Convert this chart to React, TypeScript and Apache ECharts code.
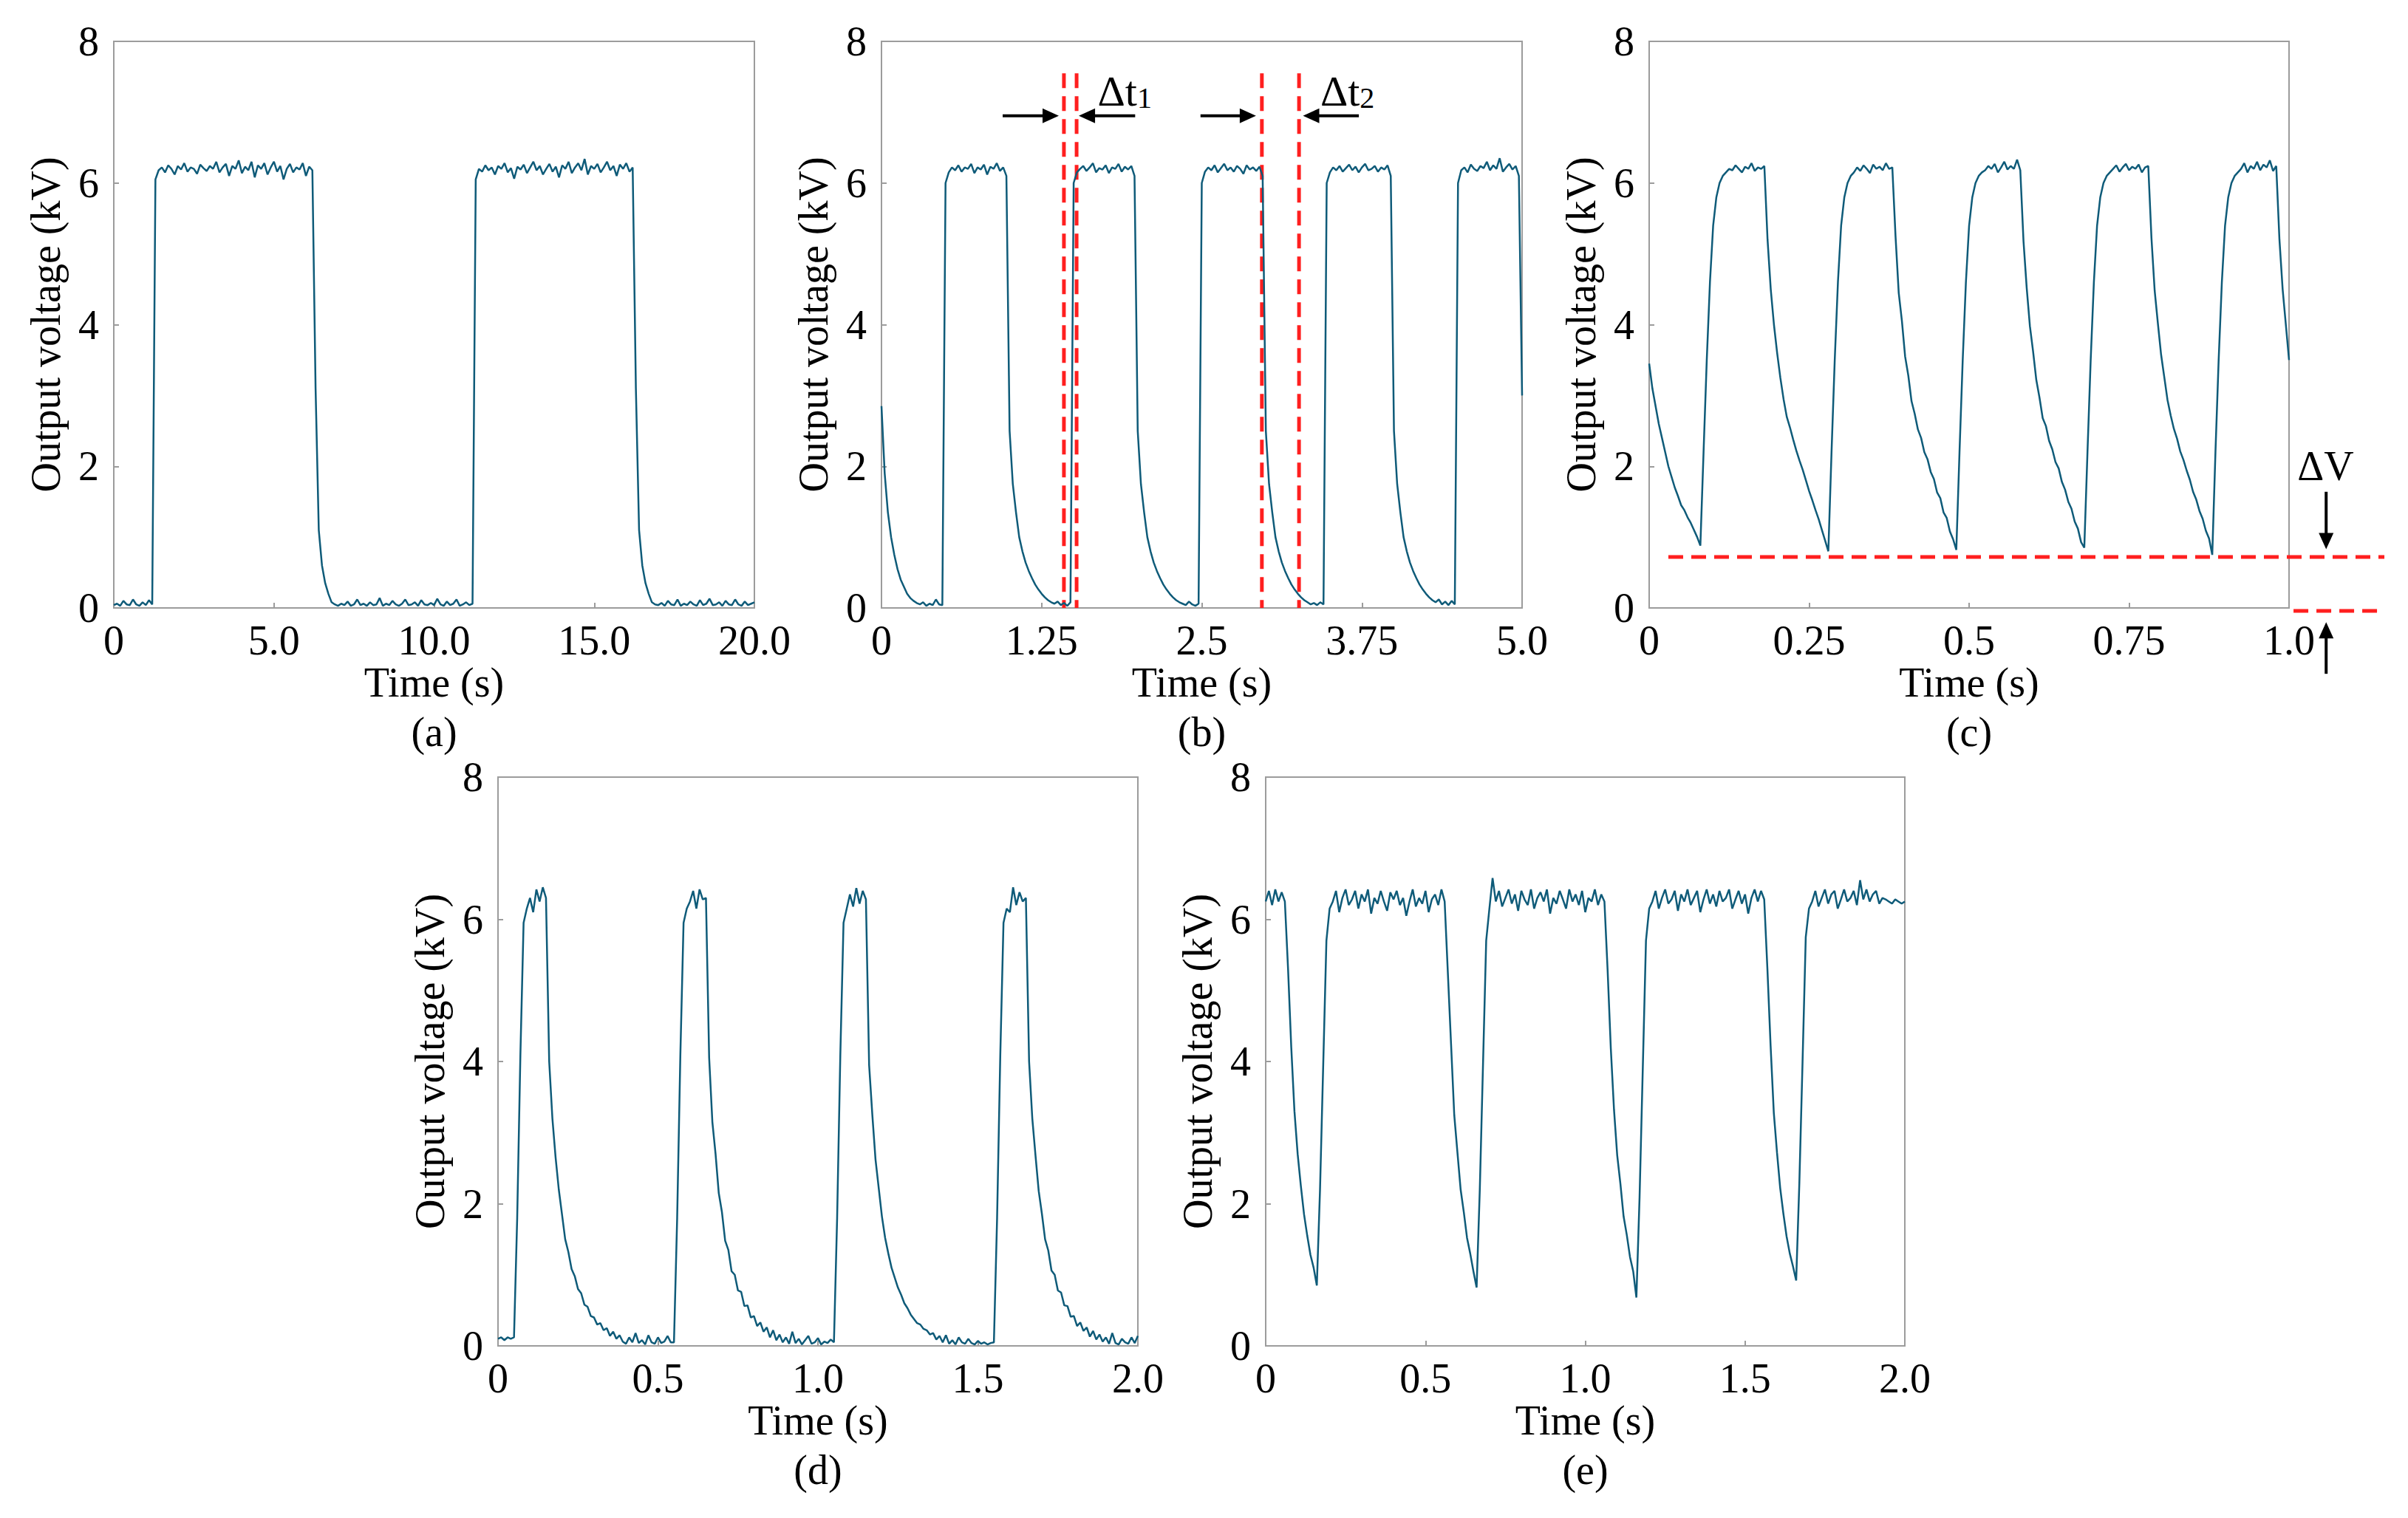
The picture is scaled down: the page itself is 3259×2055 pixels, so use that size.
import { useEffect, useRef } from 'react';
import * as echarts from 'echarts';

const W = 3259;
const H = 2055;
const FONT = '"Liberation Serif", "Times New Roman", serif';
const TRACE = '#0f5b79';
const RED = '#ff1f1f';
const FRAME = '#9c9c9c';

// tick labels
const Y_TICKS = ['0', '2', '4', '6', '8'];
const X_TICKS_A = ['0', '5.0', '10.0', '15.0', '20.0'];
const X_TICKS_B = ['0', '1.25', '2.5', '3.75', '5.0'];
const X_TICKS_C = ['0', '0.25', '0.5', '0.75', '1.0'];
const X_TICKS_DE = ['0', '0.5', '1.0', '1.5', '2.0'];

// (a) output voltage (kV), sampled every 0.1 s, t = 0 .. 20 s
const STEP_A = 0.1;
const VOLT_A = [
  0.04, 0.06, 0.03, 0.10, 0.05, 0.04, 0.12, 0.05, 0.03, 0.08, // 0.0
  0.04, 0.11, 0.05, 6.05, 6.18, 6.22, 6.15, 6.25, 6.20, 6.12, // 1.0
  6.24, 6.19, 6.28, 6.16, 6.22, 6.20, 6.13, 6.26, 6.21, 6.17, // 2.0
  6.24, 6.20, 6.30, 6.15, 6.22, 6.27, 6.10, 6.24, 6.20, 6.32, // 3.0
  6.14, 6.23, 6.18, 6.30, 6.08, 6.25, 6.20, 6.28, 6.12, 6.22, // 4.0
  6.30, 6.16, 6.24, 6.05, 6.20, 6.27, 6.15, 6.22, 6.19, 6.28, // 5.0
  6.10, 6.23, 6.18, 3.10, 1.10, 0.60, 0.35, 0.20, 0.08, 0.05, // 6.0
  0.03, 0.06, 0.04, 0.09, 0.03, 0.05, 0.12, 0.04, 0.06, 0.03, // 7.0
  0.08, 0.04, 0.05, 0.14, 0.03, 0.06, 0.04, 0.10, 0.05, 0.03, // 8.0
  0.06, 0.12, 0.04, 0.05, 0.08, 0.03, 0.11, 0.05, 0.04, 0.07, // 9.0
  0.04, 0.13, 0.05, 0.03, 0.09, 0.04, 0.06, 0.12, 0.03, 0.05, // 10.0
  0.08, 0.04, 0.06, 6.05, 6.20, 6.16, 6.25, 6.18, 6.22, 6.12, // 11.0
  6.24, 6.20, 6.28, 6.15, 6.21, 6.06, 6.23, 6.19, 6.26, 6.14, // 12.0
  6.22, 6.30, 6.18, 6.24, 6.12, 6.20, 6.27, 6.16, 6.23, 6.08, // 13.0
  6.25, 6.20, 6.30, 6.14, 6.22, 6.28, 6.18, 6.34, 6.12, 6.24, // 14.0
  6.20, 6.27, 6.15, 6.22, 6.30, 6.18, 6.24, 6.10, 6.26, 6.20, // 15.0
  6.28, 6.16, 6.22, 3.10, 1.10, 0.60, 0.35, 0.20, 0.08, 0.05, // 16.0
  0.04, 0.07, 0.03, 0.10, 0.05, 0.04, 0.12, 0.03, 0.06, 0.04, // 17.0
  0.09, 0.05, 0.03, 0.11, 0.04, 0.06, 0.13, 0.04, 0.05, 0.08, // 18.0
  0.03, 0.10, 0.05, 0.04, 0.12, 0.05, 0.03, 0.09, 0.04, 0.06, // 19.0
  0.08, // 20.0
];

// (b) sampled every 0.025 s, t = 0 .. 5 s
const STEP_B = 0.025;
const VOLT_B = [
  2.85, 1.90, 1.35, 1.00, 0.75, 0.55, 0.40, 0.30, 0.20, 0.14, // 0.0
  0.10, 0.07, 0.05, 0.08, 0.03, 0.06, 0.04, 0.12, 0.05, 0.04, // 0.25
  6.00, 6.15, 6.22, 6.18, 6.25, 6.16, 6.22, 6.20, 6.27, 6.14, // 0.5
  6.22, 6.19, 6.26, 6.12, 6.23, 6.20, 6.28, 6.17, 6.22, 6.10, // 0.75
  2.50, 1.75, 1.35, 1.00, 0.80, 0.64, 0.52, 0.42, 0.33, 0.26, // 1.0
  0.20, 0.15, 0.11, 0.08, 0.06, 0.09, 0.04, 0.07, 0.03, 0.08, // 1.25
  6.00, 6.15, 6.20, 6.24, 6.17, 6.22, 6.28, 6.15, 6.21, 6.19, // 1.5
  6.25, 6.14, 6.22, 6.20, 6.27, 6.16, 6.23, 6.19, 6.24, 6.10, // 1.75
  2.50, 1.75, 1.35, 1.00, 0.80, 0.64, 0.52, 0.42, 0.33, 0.26, // 2.0
  0.20, 0.15, 0.11, 0.08, 0.06, 0.04, 0.09, 0.05, 0.03, 0.06, // 2.25
  6.00, 6.16, 6.22, 6.18, 6.25, 6.15, 6.21, 6.27, 6.18, 6.22, // 2.5
  6.16, 6.24, 6.20, 6.13, 6.25, 6.19, 6.22, 6.17, 6.23, 6.10, // 2.75
  2.50, 1.75, 1.35, 1.00, 0.80, 0.64, 0.52, 0.42, 0.33, 0.26, // 3.0
  0.20, 0.15, 0.11, 0.08, 0.05, 0.07, 0.04, 0.08, 0.05, 6.00, // 3.25
  6.15, 6.22, 6.18, 6.24, 6.16, 6.21, 6.26, 6.18, 6.23, 6.15, // 3.5
  6.22, 6.27, 6.18, 6.20, 6.24, 6.16, 6.22, 6.19, 6.25, 6.10, // 3.75
  2.50, 1.75, 1.35, 1.00, 0.80, 0.64, 0.52, 0.42, 0.33, 0.26, // 4.0
  0.20, 0.15, 0.11, 0.08, 0.12, 0.05, 0.09, 0.04, 0.10, 0.05, // 4.25
  6.00, 6.18, 6.22, 6.15, 6.26, 6.20, 6.17, 6.24, 6.21, 6.30, // 4.5
  6.18, 6.25, 6.20, 6.35, 6.16, 6.22, 6.27, 6.19, 6.24, 6.10, // 4.75
  3.00, // 5.0
];

// (c) sampled every 0.005 s, t = 0 .. 1 s
const STEP_C = 0.005;
const VOLT_C = [
  3.45, 3.10, 2.85, 2.60, 2.40, 2.20, 2.00, 1.85, 1.70, 1.58, 1.45, 1.38, 1.28, 1.20, 1.10, 1.00, // 0 - 0.075
  0.88, 2.20, 3.50, 4.60, 5.40, 5.80, 6.00, 6.10, 6.15, // 0.08 rise
  6.20, 6.18, 6.25, 6.20, 6.15, 6.23, 6.20, 6.28, 6.17, 6.22, 6.20, 6.24,
  5.20, 4.50, 4.00, 3.60, 3.25, 2.95, 2.70, 2.55, 2.38, 2.22, 2.08, 1.95, 1.80, 1.65, 1.52, 1.38, 1.25, 1.10, 0.95,
  0.80, 2.20, 3.50, 4.60, 5.40, 5.80, 6.00, 6.10, 6.15, // 0.28 rise
  6.22, 6.17, 6.25, 6.20, 6.14, 6.26, 6.20, 6.23, 6.18, 6.28, 6.20, 6.22,
  5.25, 4.45, 4.05, 3.55, 3.28, 2.92, 2.74, 2.52, 2.40, 2.20, 2.10, 1.92, 1.82, 1.63, 1.55, 1.35, 1.27, 1.08, 0.97,
  0.82, 2.20, 3.50, 4.60, 5.40, 5.80, 6.00, 6.10, 6.15, // 0.48 rise
  6.18, 6.24, 6.20, 6.27, 6.15, 6.22, 6.30, 6.19, 6.24, 6.20, 6.33, 6.18,
  5.18, 4.52, 3.98, 3.62, 3.22, 2.97, 2.68, 2.57, 2.36, 2.24, 2.06, 1.97, 1.78, 1.67, 1.50, 1.40, 1.22, 1.12, 0.93,
  0.85, 2.20, 3.50, 4.60, 5.40, 5.80, 6.00, 6.10, 6.15, // 0.68 rise
  6.20, 6.25, 6.16, 6.22, 6.27, 6.18, 6.23, 6.20, 6.26, 6.15, 6.22, 6.24,
  5.22, 4.48, 4.02, 3.58, 3.26, 2.94, 2.72, 2.53, 2.39, 2.21, 2.09, 1.94, 1.81, 1.64, 1.53, 1.37, 1.26, 1.09, 0.98,
  0.75, 2.20, 3.50, 4.60, 5.40, 5.80, 6.00, 6.10, 6.15, // 0.88 rise
  6.20, 6.28, 6.15, 6.24, 6.20, 6.30, 6.18, 6.26, 6.22, 6.32, 6.17, 6.24,
  5.20, 4.50, 4.00, 3.50, // 0.985 - 1.0
];

// (d) sampled every 0.01 s, t = 0 .. 2 s
const STEP_D = 0.01;
const VOLT_D = [
  0.10, 0.12, 0.08, 0.12, 0.10,
  0.12, 1.80, 4.10, 5.95, 6.15, // 0.05 rise
  6.30, 6.10, 6.42, 6.25, 6.45, 6.30,
  4.00, 3.20, 2.65, 2.20, 1.85, 1.50, 1.32, 1.08, 0.98, 0.80, 0.74, 0.58, 0.55, 0.42, 0.40, 0.30, 0.32, 0.22, 0.25, 0.14, 0.20, 0.10, 0.15, 0.06,
  0.03, 0.12, 0.05, 0.18, 0.04, 0.08, 0.02, 0.15, 0.05, 0.03, 0.12, 0.04, 0.06, 0.14, 0.05,
  0.05, 1.80, 4.10, 5.95, 6.15, // 0.55 rise
  6.25, 6.40, 6.15, 6.42, 6.28, 6.30,
  4.05, 3.15, 2.70, 2.15, 1.88, 1.48, 1.35, 1.05, 1.00, 0.78, 0.76, 0.56, 0.57, 0.40, 0.42, 0.28, 0.33, 0.20, 0.26, 0.12, 0.22, 0.08, 0.16, 0.05,
  0.12, 0.03, 0.20, 0.04, 0.10, 0.02, 0.08, 0.14, 0.03, 0.05, 0.11, 0.02, 0.06, 0.04, 0.09,
  0.05, 1.80, 4.10, 5.95, 6.15, // 1.05 rise
  6.35, 6.18, 6.44, 6.22, 6.40, 6.28,
  3.95, 3.25, 2.62, 2.22, 1.82, 1.52, 1.30, 1.10, 0.96, 0.82, 0.72, 0.60, 0.53, 0.44, 0.38, 0.32, 0.30, 0.24, 0.22, 0.16, 0.18, 0.09, 0.14, 0.05,
  0.15, 0.03, 0.08, 0.02, 0.12, 0.05, 0.03, 0.10, 0.04, 0.02, 0.07, 0.03, 0.05, 0.02, 0.04,
  0.05, 1.80, 4.10, 5.95, 6.15, // 1.55 rise
  6.10, 6.45, 6.20, 6.38, 6.25, 6.30,
  4.00, 3.20, 2.68, 2.18, 1.86, 1.50, 1.34, 1.06, 1.00, 0.78, 0.75, 0.57, 0.56, 0.41, 0.42, 0.28, 0.33, 0.21, 0.26, 0.13, 0.21, 0.09, 0.16, 0.06,
  0.12, 0.03, 0.18, 0.04, 0.02, 0.10, 0.05, 0.03, 0.12, 0.04, 0.14,
];

// (e) sampled every 0.01 s, t = 0 .. 2 s
const STEP_E = 0.01;
const VOLT_E = [
  6.25, 6.40, 6.20, 6.42, 6.25, 6.38, 6.25,
  5.30, 4.20, 3.30, 2.70, 2.25, 1.85, 1.55, 1.28, 1.10, 0.85, // 0.07 fall
  2.20, 3.95, 5.70, 6.15,
  6.25, 6.40, 6.10, 6.30, 6.42, 6.20, 6.28, 6.40, 6.15, 6.35,
  6.25, 6.42, 6.08, 6.30, 6.22, 6.40, 6.25, 6.12, 6.38, 6.28,
  6.40, 6.20, 6.30, 6.05, 6.25, 6.42, 6.18, 6.30, 6.22, 6.40,
  6.10, 6.28, 6.35, 6.20, 6.42, 6.25,
  5.25, 4.25, 3.25, 2.72, 2.20, 1.88, 1.52, 1.30, 1.05, 0.82, // 0.57 fall
  2.20, 3.95, 5.70, 6.15,
  6.58, 6.25, 6.40, 6.18, 6.30, 6.42, 6.22, 6.35, 6.12, 6.40,
  6.28, 6.20, 6.42, 6.15, 6.30, 6.38, 6.25, 6.42, 6.08, 6.30,
  6.22, 6.40, 6.28, 6.15, 6.42, 6.25, 6.35, 6.20, 6.40, 6.10,
  6.30, 6.25, 6.42, 6.20, 6.35, 6.25,
  5.28, 4.18, 3.32, 2.68, 2.28, 1.82, 1.56, 1.25, 1.05, 0.68, // 1.07 fall
  2.10, 3.90, 5.70, 6.15,
  6.25, 6.40, 6.15, 6.30, 6.42, 6.22, 6.28, 6.40, 6.12, 6.35,
  6.25, 6.42, 6.20, 6.30, 6.40, 6.10, 6.28, 6.42, 6.22, 6.35,
  6.18, 6.40, 6.25, 6.30, 6.42, 6.15, 6.28, 6.40, 6.22, 6.35,
  6.08, 6.30, 6.42, 6.25, 6.40, 6.28,
  5.30, 4.22, 3.28, 2.72, 2.22, 1.86, 1.54, 1.30, 1.12, 0.92, // 1.57 fall
  2.30, 4.00, 5.75, 6.15,
  6.25, 6.40, 6.18, 6.30, 6.42, 6.22, 6.35, 6.40, 6.15, 6.28,
  6.42, 6.25, 6.30, 6.40, 6.20, 6.55, 6.28, 6.42, 6.25, 6.35,
  6.40, 6.22, 6.30, 6.28, 6.25, 6.22, 6.28, 6.25, 6.22, 6.25,
];

// annotation anchors (data units)
const DT_MARKS = [1.424, 1.523, 2.969, 3.259];
const DT_TOP = 7.55;
const DT_ARROWS: [number, number][] = [[0.946, 1.384], [1.98, 1.54], [2.49, 2.923], [3.726, 3.29]];
const DT_ARROW_V = 6.95;
const DT_LABELS = [{ t: 1.687, sub: '1' }, { t: 3.425, sub: '2' }];
const DV_LEVEL = 0.72;

const PANELS = [
  { tag: '(a)', volts: VOLT_A, step: STEP_A, xMax: 20, xInt: 5, ticks: X_TICKS_A },
  { tag: '(b)', volts: VOLT_B, step: STEP_B, xMax: 5, xInt: 1.25, ticks: X_TICKS_B },
  { tag: '(c)', volts: VOLT_C, step: STEP_C, xMax: 1, xInt: 0.25, ticks: X_TICKS_C },
  { tag: '(d)', volts: VOLT_D, step: STEP_D, xMax: 2, xInt: 0.5, ticks: X_TICKS_DE },
  { tag: '(e)', volts: VOLT_E, step: STEP_E, xMax: 2, xInt: 0.5, ticks: X_TICKS_DE },
];

const LAYOUT = [
  { left: 154, top: 56, width: 867, height: 767 },
  { left: 1193, top: 56, width: 867, height: 767 },
  { left: 2232, top: 56, width: 866, height: 767 },
  { left: 674, top: 1052, width: 866, height: 770 },
  { left: 1713, top: 1052, width: 865, height: 770 },
];

const textBase = { fontFamily: FONT, fontSize: 56, color: '#000' };

function buildOption(): echarts.EChartsOption {
  return {
    animation: false,
    backgroundColor: '#fff',
    grid: LAYOUT.map((g) => ({ ...g, show: true, borderColor: FRAME, borderWidth: 2, containLabel: false })),
    xAxis: PANELS.map((p, k) => ({
      type: 'value', gridIndex: k, min: 0, max: p.xMax, interval: p.xInt,
      axisLine: { show: false },
      axisTick: { show: true, inside: true, length: 7, lineStyle: { color: FRAME, width: 2 } },
      splitLine: { show: false },
      axisLabel: { ...textBase, margin: 16, formatter: (v: number) => p.ticks[Math.round(v / p.xInt)] ?? '' },
      name: 'Time (s)', nameLocation: 'middle', nameGap: 70, nameTextStyle: textBase,
    })),
    yAxis: PANELS.map((_, k) => ({
      type: 'value', gridIndex: k, min: 0, max: 8, interval: 2,
      axisLine: { show: false },
      axisTick: { show: true, inside: true, length: 7, lineStyle: { color: FRAME, width: 2 } },
      splitLine: { show: false },
      axisLabel: { ...textBase, margin: 20, formatter: (v: number) => Y_TICKS[Math.round(v / 2)] ?? '' },
      name: 'Output voltage (kV)', nameLocation: 'middle', nameGap: 64, nameTextStyle: textBase,
    })),
    series: PANELS.map((p, k) => ({
      type: 'line', xAxisIndex: k, yAxisIndex: k, silent: true,
      showSymbol: false, symbol: 'none',
      lineStyle: { color: TRACE, width: 2.5 },
      data: p.volts.map((v, i) => [+(i * p.step).toFixed(4), v]),
    })),
  };
}

function buildGraphics(chart: echarts.ECharts) {
  const px = (k: number, x: number, y: number) =>
    chart.convertToPixel({ gridIndex: k }, [x, y]) as number[];
  const els: any[] = [];

  const dashed = (a: number[], b: number[]) => ({
    type: 'line', silent: true,
    shape: { x1: a[0], y1: a[1], x2: b[0], y2: b[1] },
    style: { stroke: RED, lineWidth: 5, lineDash: [20, 11] },
  });
  const arrow = (from: number[], tip: number[]) => {
    const dx = tip[0] - from[0];
    const dy = tip[1] - from[1];
    const len = Math.hypot(dx, dy);
    const ux = dx / len, uy = dy / len;
    const hl = 22, hw = 10;
    const bx = tip[0] - ux * hl, by = tip[1] - uy * hl;
    els.push({
      type: 'line', silent: true,
      shape: { x1: from[0], y1: from[1], x2: bx + ux * 4, y2: by + uy * 4 },
      style: { stroke: '#000', lineWidth: 4 },
    });
    els.push({
      type: 'polygon', silent: true,
      shape: { points: [[tip[0], tip[1]], [bx - uy * hw, by + ux * hw], [bx + uy * hw, by - ux * hw]] },
      style: { fill: '#000' },
    });
  };

  // (b) dead-time markers
  DT_MARKS.forEach((t) => els.push(dashed(px(1, t, DT_TOP), px(1, t, 0))));
  DT_ARROWS.forEach(([a, b]) => arrow(px(1, a, DT_ARROW_V), px(1, b, DT_ARROW_V)));
  DT_LABELS.forEach(({ t, sub }) => {
    const [x, y] = px(1, t, 7.3);
    els.push({
      type: 'text', silent: true, x, y,
      style: {
        text: `{a|Δt}{b|${sub}}`,
        rich: {
          a: { fontFamily: FONT, fontSize: 58, fill: '#000', verticalAlign: 'bottom' },
          b: { fontFamily: FONT, fontSize: 40, fill: '#000', verticalAlign: 'bottom' },
        },
        align: 'left', verticalAlign: 'middle', textAlign: 'left', textVerticalAlign: 'middle',
      },
    });
  });

  // (c) ripple markers
  const right = px(2, 1.149, DV_LEVEL);
  els.push(dashed(px(2, 0.03, DV_LEVEL), right));
  const z0 = px(2, 1.007, 0);
  els.push(dashed([z0[0], z0[1] + 4], [right[0], z0[1] + 4]));
  arrow(px(2, 1.058, 1.64), px(2, 1.058, 0.83));
  arrow(px(2, 1.058, -0.93), px(2, 1.058, -0.2));
  const dv = px(2, 1.013, 2.0);
  els.push({
    type: 'text', silent: true, x: dv[0], y: dv[1],
    style: {
      text: 'ΔV', fontFamily: FONT, fontSize: 56, fill: '#000',
      align: 'left', verticalAlign: 'middle', textAlign: 'left', textVerticalAlign: 'middle',
    },
  });

  // panel tags
  PANELS.forEach((p, k) => {
    const g = LAYOUT[k];
    els.push({
      type: 'text', silent: true, x: g.left + g.width / 2, y: g.top + g.height + 168,
      style: {
        text: p.tag, fontFamily: FONT, fontSize: 56, fill: '#000',
        align: 'center', verticalAlign: 'middle', textAlign: 'center', textVerticalAlign: 'middle',
      },
    });
  });
  return els;
}

export default function App() {
  const ref = useRef<HTMLDivElement>(null);

  useEffect(() => {
    if (!ref.current) return;
    const chart = echarts.init(ref.current, undefined, { renderer: 'svg', width: W, height: H });
    chart.setOption(buildOption());
    chart.setOption({ graphic: buildGraphics(chart) });
    return () => chart.dispose();
  }, []);

  return (
    <div
      ref={ref}
      style={{ position: 'absolute', left: 0, top: 0, width: W, height: H, background: '#fff' }}
    />
  );
}
